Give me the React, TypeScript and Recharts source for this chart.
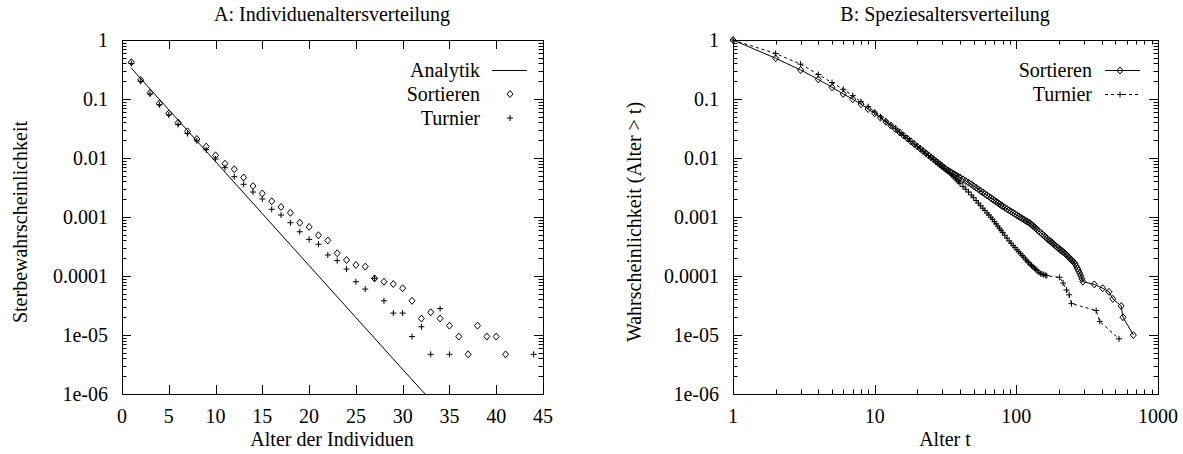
import { ComposedChart, Line, ReferenceArea, XAxis, YAxis } from "recharts";

const FONT = '"Liberation Serif", "Times New Roman", Times, serif';

// A: Individuenaltersverteilung
const indivAges = [
  1, 2, 3, 4, 5, 6, 7, 8, 9, 10, 11, 12, 13, 14, 15, 16, 17, 18, 19, 20,
  21, 22, 23, 24, 25, 26, 27, 28, 29, 30, 31, 32, 33, 34, 35, 36, 37, 38, 39, 40, 41,
];
const indivSortieren = [
  0.42, 0.21, 0.128, 0.0845, 0.057, 0.0398, 0.0283, 0.021, 0.0156, 0.0111,
  0.008, 0.00645, 0.00467, 0.00335, 0.00251, 0.00185, 0.00148, 0.00118, 0.0008, 0.00068,
  0.00049, 0.0004, 0.000243, 0.000187, 0.000154, 0.000144, 9.1e-5, 8.0e-5, 7.3e-5, 6.2e-5,
  3.8e-5, 1.9e-5, 2.43e-5, 1.9e-5, 1.44e-5, 9.4e-6, 4.7e-6, 1.44e-5, 9.4e-6, 9.4e-6, 4.7e-6,
];
const indivTurnierAges = [
  1, 2, 3, 4, 5, 6, 7, 8, 9, 10, 11, 12, 13, 14, 15, 16, 17, 18, 19, 20,
  21, 22, 23, 24, 25, 26, 27, 28, 29, 30, 31, 32, 33, 34, 35, 44,
];
const indivTurnier = [
  0.4, 0.2, 0.122, 0.08, 0.054, 0.037, 0.026, 0.0195, 0.0138, 0.0096,
  0.00685, 0.00482, 0.00358, 0.00265, 0.00202, 0.00135, 0.00108, 0.0008, 0.000562, 0.000417,
  0.000345, 0.000227, 0.000182, 0.000131, 8.0e-5, 6.0e-5, 9.1e-5, 3.8e-5, 2.35e-5, 2.35e-5,
  9.4e-6, 1.38e-5, 4.7e-6, 2.8e-5, 4.7e-6, 4.7e-6,
];
const analytikAges = [1, 5, 10, 15, 20, 25, 30, 32.4];
const analytikValues = [0.333, 0.0658, 0.00867, 0.00114, 0.00015, 1.98e-5, 2.61e-6, 1e-6];

const ageTicksA = [0, 5, 10, 15, 20, 25, 30, 35, 40, 45];

// B: Speziesaltersverteilung
const speciesSortAges = [
  1, 2, 3, 4, 5, 6, 7, 8, 9, 10, 11, 12, 13, 14, 15, 16, 17, 18, 19, 20,
  21, 22, 23, 24, 25, 26, 27, 28, 29, 30, 31, 32, 33, 34, 35, 36, 37, 38, 39, 40,
  42, 44, 46, 48, 50, 52, 54, 56, 58, 60, 62, 64, 66, 68, 70, 72, 74, 76, 78, 80,
  83, 86, 89, 92, 95, 98, 101, 104, 107, 110, 113, 116, 119, 122, 125, 128, 131, 134, 137, 140,
  144, 148, 152, 156, 160, 164, 168, 172, 176, 180, 184, 188, 192, 196, 200,
  205, 210, 215, 220, 225, 230, 235, 240, 245, 250, 255, 260, 265, 270, 275, 280, 285, 290, 295,
  355, 407, 451, 480, 550, 566, 670,
];
const speciesSortieren = [
  1, 0.49, 0.31, 0.215, 0.158, 0.122, 0.099, 0.082, 0.0676, 0.057,
  0.0481, 0.041, 0.0355, 0.031, 0.0272, 0.0241, 0.0214, 0.0192, 0.0173, 0.0157,
  0.01432, 0.01312, 0.01205, 0.0111, 0.01027, 0.00953, 0.00887, 0.00828, 0.00774, 0.00726,
  0.00682, 0.00642, 0.00612, 0.00586, 0.00563, 0.00541, 0.00521, 0.00501, 0.00483, 0.00467,
  0.00435, 0.00408, 0.00383, 0.00359, 0.00335, 0.00314, 0.00294, 0.00277, 0.00261, 0.00247,
  0.00234, 0.00222, 0.00211, 0.002, 0.00191, 0.00182, 0.00174, 0.00166, 0.00159, 0.00153,
  0.00144, 0.00136, 0.0013, 0.00123, 0.00118, 0.00112, 0.00107, 0.00103, 0.000984, 0.000944,
  0.000906, 0.000871, 0.000839, 0.000808, 0.000782, 0.000743, 0.000707, 0.000674, 0.000643, 0.000614,
  0.000578, 0.000545, 0.000515, 0.000487, 0.000461, 0.000437, 0.000416, 0.000396, 0.000378, 0.000361,
  0.000345, 0.00033, 0.000316, 0.000303, 0.000291,
  0.000277, 0.000265, 0.000253, 0.000242, 0.000231, 0.000219, 0.000208, 0.000197, 0.000188, 0.000179,
  0.00017, 0.00016, 0.000147, 0.000134, 0.000123, 0.000112, 0.000101, 9.0e-5, 8.0e-5,
  7.2e-5, 6.2e-5, 5.4e-5, 4.1e-5, 3.1e-5, 2.0e-5, 1.0e-5,
];
const speciesTurnierAges = [
  1, 2, 3, 4, 5, 6, 7, 8, 9, 10, 11, 12, 13, 14, 15, 16, 17, 18, 19, 20,
  21, 22, 23, 24, 25, 26, 27, 28, 29, 30, 31, 32, 33, 34, 35, 36, 37, 38, 39, 40,
  42, 44, 46, 48, 50, 52, 54, 56, 58, 60, 62, 64, 66, 68, 70, 72, 74, 76, 78, 80,
  83, 86, 89, 92, 95, 98, 101, 104, 107, 110, 113, 116, 119, 122, 125, 128, 131, 134, 137, 140,
  144, 148, 152, 156, 160, 164,
  202, 214, 226, 236, 245, 366, 388, 531,
];
const speciesTurnier = [
  1, 0.59, 0.39, 0.26, 0.19, 0.146, 0.114, 0.09, 0.074, 0.06,
  0.05, 0.0422, 0.0361, 0.0313, 0.0272, 0.0241, 0.0214, 0.0191, 0.0172, 0.0156,
  0.0142, 0.013, 0.0119, 0.011, 0.0101, 0.0094, 0.00872, 0.0081, 0.00756, 0.00705,
  0.00662, 0.0062, 0.00598, 0.00556, 0.00518, 0.00483, 0.00452, 0.00423, 0.00397, 0.00373,
  0.00331, 0.00295, 0.00265, 0.00237, 0.00212, 0.0019, 0.00172, 0.00155, 0.00141, 0.00129,
  0.00117, 0.00108, 0.000991, 0.000912, 0.000834, 0.000764, 0.000702, 0.000645, 0.000595, 0.00055,
  0.00049, 0.000438, 0.000394, 0.000358, 0.000329, 0.000303, 0.000279, 0.000258, 0.000239, 0.000222,
  0.000207, 0.000193, 0.00018, 0.000169, 0.000158, 0.000151, 0.000143, 0.000136, 0.00013, 0.000124,
  0.000116, 0.00011, 0.000108, 0.000106, 0.000103, 0.000101,
  9.5e-5, 7.6e-5, 5.8e-5, 4.8e-5, 3.4e-5, 2.6e-5, 1.7e-5, 8.6e-6,
];

const ageTicksB = [1, 10, 100, 1000];

const decadeTicks = [1e-6, 1e-5, 1e-4, 1e-3, 1e-2, 0.1, 1];
const decadeLabels = ["1e-06", "1e-05", "0.0001", "0.001", "0.01", "0.1", "1"];

// small log ticks 2..9 inside every decade
const logMinors = (majors: number[]) =>
  majors.slice(0, -1).flatMap((d) => [2, 3, 4, 5, 6, 7, 8, 9].map((m) => d * m));

const rows = (xs: number[], ys: number[]) => xs.map((x, i) => ({ x, y: ys[i] }));

type Frame = { left: number; right: number; top: number; bottom: number };

const Diamond = ({ cx, cy }: { cx?: number; cy?: number }) => {
  if (cx == null || cy == null) return null;
  return (
    <path
      d={`M${cx},${cy - 3.5}L${cx + 3},${cy}L${cx},${cy + 3.5}L${cx - 3},${cy}Z`}
      fill="none"
      stroke="#000"
      strokeWidth={1}
    />
  );
};

const Plus = ({ cx, cy }: { cx?: number; cy?: number }) => {
  if (cx == null || cy == null) return null;
  return (
    <path
      d={`M${cx - 3},${cy}H${cx + 3}M${cx},${cy - 3}V${cy + 3}`}
      fill="none"
      stroke="#000"
      strokeWidth={1}
    />
  );
};

const diamondDot = (p: any) => <Diamond key={`d${p.index}`} cx={p.cx} cy={p.cy} />;
const plusDot = (p: any) => <Plus key={`p${p.index}`} cx={p.cx} cy={p.cy} />;

// y ticks point inward on both sides of the box, labels only on the majors
const yTick = (f: Frame, majors: number[], labels: string[]) => (p: any) => {
  const v = p.payload.value;
  const i = majors.indexOf(v);
  const len = i >= 0 ? 9 : 4.5;
  const y = Math.round(p.y) + 0.5;
  return (
    <g key={`y${v}`}>
      <line x1={f.left} x2={f.left + len} y1={y} y2={y} stroke="#000" />
      <line x1={f.right} x2={f.right - len} y1={y} y2={y} stroke="#000" />
      {i >= 0 && (
        <text x={f.left - 14} y={p.y} textAnchor="end" dominantBaseline="central"
          fontFamily={FONT} fontSize={20} fill="#000">
          {labels[i]}
        </text>
      )}
    </g>
  );
};

const xTick = (f: Frame, majors: number[], labels: string[]) => (p: any) => {
  const v = p.payload.value;
  const i = majors.indexOf(v);
  const len = i >= 0 ? 9 : 4.5;
  const x = Math.round(p.x) + 0.5;
  return (
    <g key={`x${v}`}>
      <line x1={x} x2={x} y1={f.bottom} y2={f.bottom - len} stroke="#000" />
      <line x1={x} x2={x} y1={f.top} y2={f.top + len} stroke="#000" />
      {i >= 0 && (
        <text x={p.x} y={f.bottom + 22} textAnchor="middle" dominantBaseline="central"
          fontFamily={FONT} fontSize={20} fill="#000">
          {labels[i]}
        </text>
      )}
    </g>
  );
};

const frameA: Frame = { left: 122, right: 543, top: 40, bottom: 394 };
const frameB: Frame = { left: 133, right: 558, top: 40, bottom: 394 };

const IndividualChart = () => (
  <ComposedChart width={560} height={454} margin={{ top: 40, right: 17, bottom: 10, left: 62 }}>
    <XAxis
      xAxisId="a" type="number" dataKey="x" domain={[0, 45]} ticks={ageTicksA} interval={0}
      height={50} axisLine={false} tickLine={false}
      tick={xTick(frameA, ageTicksA, ageTicksA.map(String))}
    />
    <YAxis
      yAxisId="p" type="number" scale="log" domain={[1e-6, 1]}
      ticks={[...decadeTicks, ...logMinors(decadeTicks)]} interval={0}
      width={60} axisLine={false} tickLine={false}
      tick={yTick(frameA, decadeTicks, decadeLabels)}
    />
    <ReferenceArea xAxisId="a" yAxisId="p" x1={0} x2={45} y1={1e-6} y2={1}
      fill="none" stroke="#000" shapeRendering="crispEdges" />
    <Line xAxisId="a" yAxisId="p" data={rows(analytikAges, analytikValues)} dataKey="y"
      stroke="#000" strokeWidth={1} dot={false} activeDot={false} isAnimationActive={false} />
    <Line xAxisId="a" yAxisId="p" data={rows(indivAges, indivSortieren)} dataKey="y"
      stroke="none" dot={diamondDot} activeDot={false} isAnimationActive={false} />
    <Line xAxisId="a" yAxisId="p" data={rows(indivTurnierAges, indivTurnier)} dataKey="y"
      stroke="none" dot={plusDot} activeDot={false} isAnimationActive={false} />
  </ComposedChart>
);

const SpeciesChart = () => (
  <ComposedChart width={583} height={454} margin={{ top: 40, right: 25, bottom: 10, left: 73 }}>
    <XAxis
      xAxisId="t" type="number" dataKey="x" scale="log" domain={[1, 1000]}
      ticks={[...ageTicksB, ...logMinors(ageTicksB)]} interval={0}
      height={50} axisLine={false} tickLine={false}
      tick={xTick(frameB, ageTicksB, ageTicksB.map(String))}
    />
    <YAxis
      yAxisId="p" type="number" scale="log" domain={[1e-6, 1]}
      ticks={[...decadeTicks, ...logMinors(decadeTicks)]} interval={0}
      width={60} axisLine={false} tickLine={false}
      tick={yTick(frameB, decadeTicks, decadeLabels)}
    />
    <ReferenceArea xAxisId="t" yAxisId="p" x1={1} x2={1000} y1={1e-6} y2={1}
      fill="none" stroke="#000" shapeRendering="crispEdges" />
    <Line xAxisId="t" yAxisId="p" data={rows(speciesSortAges, speciesSortieren)} dataKey="y"
      stroke="#000" strokeWidth={1} dot={diamondDot} activeDot={false} isAnimationActive={false} />
    <Line xAxisId="t" yAxisId="p" data={rows(speciesTurnierAges, speciesTurnier)} dataKey="y"
      stroke="#000" strokeWidth={1} strokeDasharray="3 3" dot={plusDot} activeDot={false}
      isAnimationActive={false} />
  </ComposedChart>
);

const txt = { fontFamily: FONT, fontSize: 20, fill: "#000" };

const Labels = () => (
  <svg width={1183} height={454} style={{ position: "absolute", left: 0, top: 0, pointerEvents: "none" }}>
    <text x={332} y={14} textAnchor="middle" dominantBaseline="central" {...txt}>A: Individuenaltersverteilung</text>
    <text x={945} y={14} textAnchor="middle" dominantBaseline="central" {...txt}>B: Speziesaltersverteilung</text>
    <text x={332} y={439} textAnchor="middle" dominantBaseline="central" {...txt}>Alter der Individuen</text>
    <text x={945} y={439} textAnchor="middle" dominantBaseline="central" {...txt}>Alter t</text>
    <text x={0} y={0} transform="translate(20 222) rotate(-90)" textAnchor="middle" dominantBaseline="central" {...txt}>
      Sterbewahrscheinlichkeit
    </text>
    <text x={0} y={0} transform="translate(634 222) rotate(-90)" textAnchor="middle" dominantBaseline="central" {...txt}>
      Wahrscheinlichkeit (Alter &gt; t)
    </text>

    {/* key of plot A */}
    <text x={480} y={70} textAnchor="end" dominantBaseline="central" {...txt}>Analytik</text>
    <line x1={492} x2={527} y1={70.5} y2={70.5} stroke="#000" />
    <text x={480} y={94} textAnchor="end" dominantBaseline="central" {...txt}>Sortieren</text>
    <Diamond cx={510} cy={94} />
    <text x={480} y={118} textAnchor="end" dominantBaseline="central" {...txt}>Turnier</text>
    <Plus cx={510} cy={118} />

    {/* key of plot B */}
    <text x={1092} y={70} textAnchor="end" dominantBaseline="central" {...txt}>Sortieren</text>
    <line x1={1105} x2={1140} y1={70.5} y2={70.5} stroke="#000" />
    <Diamond cx={1120} cy={70.5} />
    <text x={1092} y={94} textAnchor="end" dominantBaseline="central" {...txt}>Turnier</text>
    <line x1={1105} x2={1140} y1={94.5} y2={94.5} stroke="#000" strokeDasharray="3 3" />
    <Plus cx={1120} cy={94.5} />
  </svg>
);

export default function App() {
  return (
    <div style={{ position: "relative", width: 1183, height: 454, background: "#fff" }}>
      <style>{"body{margin:0}"}</style>
      <div style={{ position: "absolute", left: 0, top: 0 }}>
        <IndividualChart />
      </div>
      <div style={{ position: "absolute", left: 600, top: 0 }}>
        <SpeciesChart />
      </div>
      <Labels />
    </div>
  );
}
